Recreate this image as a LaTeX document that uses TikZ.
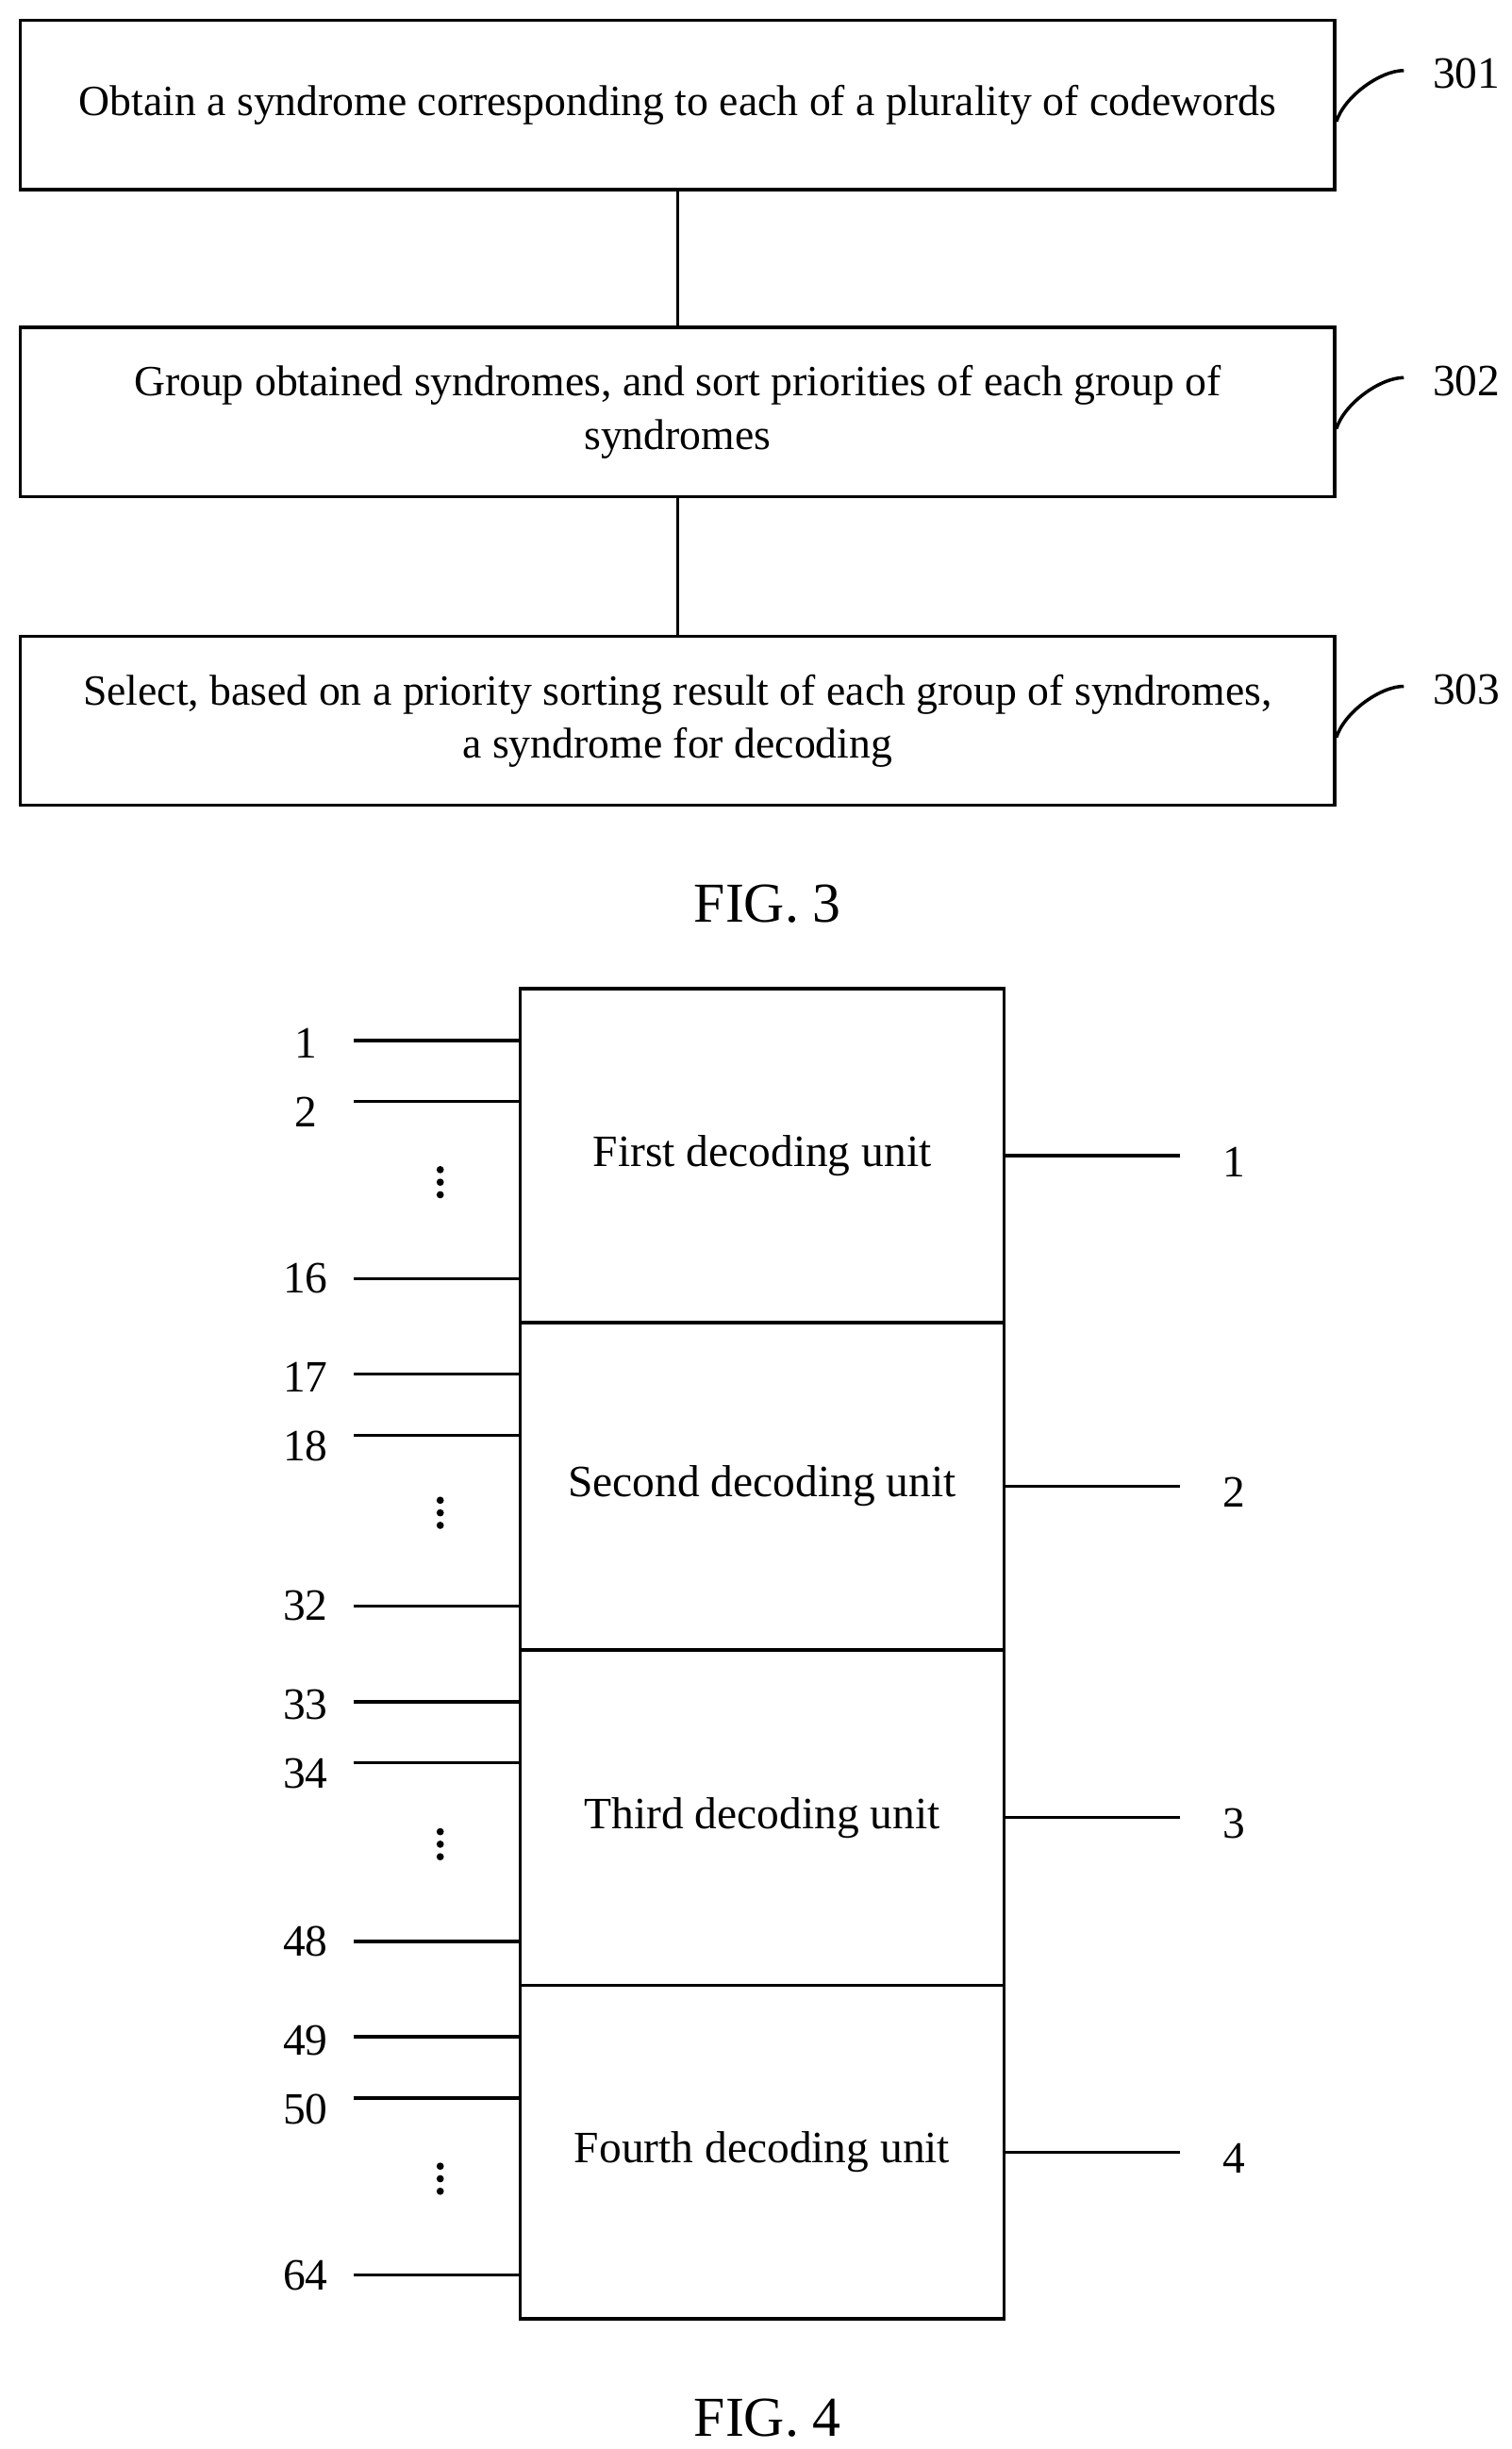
\documentclass[tikz,border=0pt]{standalone}
\usepackage{fontspec}
\setmainfont{Liberation Serif}
\usetikzlibrary{positioning}
\tikzset{
  procbox/.style={draw, line width=1pt, minimum width=839*0.0166cm, minimum height=108*0.0166cm, align=center, font=\fontsize{13}{16}\selectfont},
  lbl/.style={font=\fontsize{13.5}{16}\selectfont},
  figcap/.style={font=\fontsize{17}{20}\selectfont},
  unit/.style={draw, line width=1pt, minimum width=309*0.0166cm, align=center, font=\fontsize{13.5}{16}\selectfont},
  dot/.style={circle, fill, inner sep=0pt, minimum size=2.2pt}
}
\begin{document}
\begin{tikzpicture}[x=0.0166cm, y=-0.0166cm, line width=1pt]
\useasboundingbox (0,0) rectangle (965,1563);
% FIG. 3
\node[procbox] (s1) at (432.5,67) {Obtain a syndrome corresponding to each of a plurality of codewords};
\node[procbox] (s2) at (432.5,263) {Group obtained syndromes, and sort priorities of each group of\\syndromes};
\node[procbox] (s3) at (432.5,460) {Select, based on a priority sorting result of each group of syndromes,\\a syndrome for decoding};
\draw (s1) -- (s2);
\draw (s2) -- (s3);
\foreach \s/\n in {s1/301,s2/302,s3/303}{
  \node[lbl] (l\n) at ([shift={(83,-20)}]\s.east) {\n};
  \coordinate (e\n) at ([shift={(43,-22)}]\s.east);
  \draw ([yshift=-5]\s.east) .. controls +(5,-16) and +(-15,0) .. (e\n);
}
\node[figcap] (f3) at (490,577) {FIG. 3};
% FIG. 4
\foreach \i/\name/\ya/\yb/\ys/\out in {
  1/First/631/844/1/1, 2/Second/844/1053/17/2, 3/Third/1053/1267/33/3, 4/Fourth/1267/1480/49/4}{
  \pgfmathsetmacro{\yc}{(\ya+\yb)/2}
  \pgfmathtruncatemacro{\ysb}{\ys+1}
  \pgfmathtruncatemacro{\yse}{\ys+15}
  \node[unit, minimum height={(\yb-\ya)*0.0166cm}] (u\i) at (486.5,\yc) {\name\ decoding unit};
  \coordinate (a\i) at (332,\ya+33);
  \coordinate (b\i) at (332,\ya+72);
  \coordinate (c\i) at (332,\yb-28);
  \draw (a\i) -- ++(-106,0);
  \draw (b\i) -- ++(-106,0);
  \draw (c\i) -- ++(-106,0);
  \node[lbl] (na\i) at (195,\ya+35) {\ys};
  \node[lbl] (nb\i) at (195,\ya+79) {\ysb};
  \node[lbl] (nc\i) at (195,\yb-28) {\yse};
  \foreach \k in {-8,0,8}
    \node[dot] at (281,\yc+17+\k) {};
  \draw (u\i.east) -- ++(111,0);
  \node[lbl] (o\i) at (788,\yc+4) {\out};
}
\node[figcap] (f4) at (490,1543) {FIG. 4};
\end{tikzpicture}
\end{document}
